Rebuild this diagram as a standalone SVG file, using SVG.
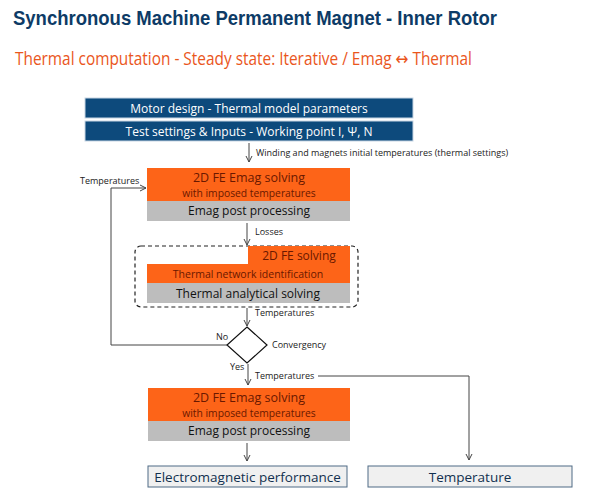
<svg xmlns="http://www.w3.org/2000/svg" width="600" height="504" viewBox="0 0 600 504">
<defs>
<marker id="ah" markerWidth="8" markerHeight="8" refX="7" refY="4" orient="auto" markerUnits="userSpaceOnUse">
<path d="M1,1 L7,4 L1,7" fill="none" stroke="#444" stroke-width="1"/>
</marker>
<style>
.t{font-family:"Open Sans","Liberation Sans",sans-serif;}
.blue{fill:#0d4a7c;stroke:#c8d6e4;stroke-width:1;}
.org{fill:#fd6418;}
.gry{fill:#bdbdbd;}
.wt{fill:#ffffff;font-size:12px;}
.ot{fill:#6a1800;}
.gt{fill:#111;font-size:12px;}
.lbl{fill:#222;font-size:9px;}
.res{fill:#f0f0f0;stroke:#4f6b85;stroke-width:1;}
.rt{fill:#12304f;font-size:13.5px;}
.ln{fill:none;stroke:#444;stroke-width:1;}
</style>
</defs>
<rect width="600" height="504" fill="#ffffff"/>
<text x="13" y="25" font-family="'Liberation Sans',Arial,sans-serif" font-weight="bold" font-size="21" fill="#0d3b66" textLength="484" lengthAdjust="spacingAndGlyphs">Synchronous Machine Permanent Magnet - Inner Rotor</text>
<text x="15" y="65" font-family="'Open Sans','DejaVu Sans',sans-serif" font-size="18" fill="#ea561c" textLength="457" lengthAdjust="spacingAndGlyphs">Thermal computation - Steady state: Iterative / Emag ↔ Thermal</text>

<g id="motor-design">
<rect class="blue" x="85" y="98" width="328" height="20"/>
<text class="t wt" x="249" y="112.5" text-anchor="middle">Motor design - Thermal model parameters</text>
</g>
<g id="test-settings">
<rect class="blue" x="85" y="121" width="328" height="20"/>
<text class="t wt" x="249" y="135.5" text-anchor="middle">Test settings &amp; Inputs - Working point I, Ψ, N</text>
</g>

<g id="emag1">
<rect class="org" x="147" y="168" width="203" height="33"/>
<rect class="gry" x="147" y="201" width="203" height="20"/>
<text class="t ot" x="249" y="182" text-anchor="middle" font-size="12.5">2D FE Emag solving</text>
<text class="t ot" x="249" y="196.5" text-anchor="middle" font-size="10.3">with imposed temperatures</text>
<text class="t gt" x="249" y="215" text-anchor="middle">Emag post processing</text>
</g>

<g id="thermal">
<rect x="135" y="246" width="223" height="61" rx="6" fill="none" stroke="#222" stroke-width="1.2" stroke-dasharray="4,3"/>
<path class="org" d="M248,246 H350 V283 H147 V264 H248 Z"/>
<rect class="gry" x="147" y="283" width="203" height="20"/>
<text class="t ot" x="299" y="260" text-anchor="middle" font-size="12">2D FE solving</text>
<text class="t ot" x="248" y="277.5" text-anchor="middle" font-size="10.5">Thermal network identification</text>
<text class="t gt" x="248" y="297.5" text-anchor="middle">Thermal analytical solving</text>
</g>

<g id="convergency">
<path d="M247,327 L267,345 L247,363 L227,345 Z" fill="#ffffff" stroke="#111" stroke-width="1.2"/>
<text class="t lbl" x="272" y="348">Convergency</text>
<text class="t lbl" x="216" y="340">No</text>
<text class="t lbl" x="230" y="370">Yes</text>
</g>

<g id="emag2">
<rect class="org" x="148" y="388" width="202" height="33"/>
<rect class="gry" x="148" y="421" width="202" height="20"/>
<text class="t ot" x="249" y="402" text-anchor="middle" font-size="12.5">2D FE Emag solving</text>
<text class="t ot" x="249" y="416.5" text-anchor="middle" font-size="10.3">with imposed temperatures</text>
<text class="t gt" x="249" y="435" text-anchor="middle">Emag post processing</text>
</g>

<g id="em-performance">
<rect class="res" x="148" y="466" width="199" height="21"/>
<text class="t rt" x="247.5" y="481.5" text-anchor="middle">Electromagnetic performance</text>
</g>
<g id="temperature">
<rect class="res" x="368" y="466" width="204" height="21"/>
<text class="t rt" x="470" y="481.5" text-anchor="middle">Temperature</text>
</g>

<g id="connectors">
<line class="ln" x1="249" y1="143" x2="249" y2="162" marker-end="url(#ah)"/>
<text class="t lbl" x="256" y="156">Winding and magnets initial temperatures (thermal settings)</text>
<line class="ln" x1="247" y1="223" x2="247" y2="245" marker-end="url(#ah)"/>
<text class="t lbl" x="255" y="235">Losses</text>
<line class="ln" x1="247" y1="308" x2="247" y2="326" marker-end="url(#ah)"/>
<text class="t lbl" x="255" y="316">Temperatures</text>
<polyline class="ln" points="227,345 111,345 111,188 146,188" marker-end="url(#ah)"/>
<text class="t lbl" x="80" y="184">Temperatures</text>
<line class="ln" x1="248" y1="364" x2="248" y2="385" marker-end="url(#ah)"/>
<text class="t lbl" x="255" y="379">Temperatures</text>
<polyline class="ln" points="318,376 469,376 469,460" marker-end="url(#ah)"/>
<line class="ln" x1="247" y1="443" x2="247" y2="461" marker-end="url(#ah)"/>
</g>
</svg>
